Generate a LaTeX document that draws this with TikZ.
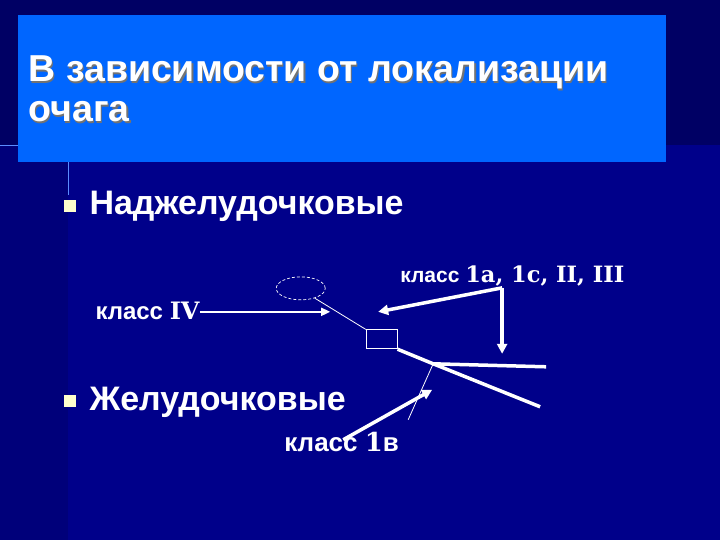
\documentclass[tikz,border=0pt]{standalone}
\usepackage{fontspec}
\setmainfont{Liberation Sans}
\newfontfamily\latfont{DejaVu Serif}
\usetikzlibrary{positioning,arrows.meta,shapes.geometric}
\begin{document}
\begin{tikzpicture}[x=1pt,y=-1pt]

  \definecolor{topcol}{RGB}{0,0,100}
  \definecolor{bgcol}{RGB}{0,0,138}
  \definecolor{stripcol}{RGB}{0,0,122}
  \definecolor{titcol}{RGB}{0,102,255}
  \definecolor{bulcol}{RGB}{255,255,204}
  \definecolor{linecol}{RGB}{90,140,255}

 \tikzset{
      txtstl/.style={text=white,inner sep=0pt,anchor=base west},
      titstl/.style={txtstl,font=\fontsize{37.5}{40}\selectfont\bfseries},
      itmstl/.style={txtstl,font=\fontsize{34}{38}\selectfont\bfseries},
      thkstl/.style={white,line width=3.5pt},
      arrstl/.style={white,line width=3.5pt,-{Triangle[length=10pt,width=10pt]}},
      thnstl/.style={white,line width=0.8pt},
      bulstl/.style={fill=bulcol,inner sep=0pt,minimum size=12pt},
    }

 % background
 \fill[bgcol] (0,0) rectangle (720,540);
 \fill[stripcol] (0,145) rectangle (68,540);
 \fill[topcol] (0,0) rectangle (720,145);
 \draw[linecol,line width=0.8pt] (0,145) -- (18,145);
 \draw[linecol,line width=0.8pt] (68,162) -- (68,195);
 \fill[titcol] (18,15) rectangle (666,162);

 % title (with its shadow)
 \node[titstl,text=black!55] at (29.2,83.2) {В зависимости от локализации};
 \node[titstl,text=black!55] at (29.2,123.2) {очага};
 \node[titstl] (tit1) at (28,82) {В зависимости от локализации};
 \node[titstl] (tit2) at (28,122) {очага};

 % bullets
 \node[bulstl] (b1) at (69.5,206.5) {};
 \node[bulstl] (b2) at (69.5,401.5) {};
 \node[itmstl] (nadj) at (89,215) {Наджелудочковые};
 \node[itmstl] (zhel) at (89,411) {Желудочковые};

 % class labels
 \node[txtstl,font=\fontsize{21}{24}\selectfont\bfseries] (kI) at (400,283)
   {класс {\latfont\fontsize{22.5}{24}\selectfont 1a, 1c, II, III}};
 \node[txtstl,font=\fontsize{24}{28}\selectfont\bfseries] (kIV) at (95,320)
   {класс {\latfont IV}};
 \node[txtstl,font=\fontsize{26}{30}\selectfont\bfseries] (kIb) at (284,452)
   {класс {\latfont 1}в};

 % heart scheme
 \node[draw=white,densely dashed,line width=0.7pt,ellipse,minimum width=49pt,
   minimum height=23pt,inner sep=0pt] (sin) at (300.5,288.5) {};
 \node[draw=white,line width=0.8pt,minimum width=31pt,minimum height=19pt,
   inner sep=0pt] (av) at (381.5,339.5) {};

 \coordinate (jn) at (433,364);
 \coordinate (rbr) at (540,407);
 \coordinate (lbl) at (546,367);
 \coordinate (fib) at (408,420);
 \coordinate (src) at (502,288);
 \coordinate (ivend) at (330,312);

 \draw[thnstl] (sin.-35) -- (av.north west);
 \draw[thkstl] (av.south east) -- (jn) -- (rbr);
 \draw[thkstl] (jn) -- (lbl);
 \draw[thnstl] (jn) -- (fib);

 % drug arrows
 \draw[white,line width=1.8pt,-{Triangle[length=9pt,width=8pt]}] (kIV.east |- ivend) -- (ivend);
 \draw[arrstl] (src) -- (378,312);
 \draw[arrstl] (src) -- (502,354);
 \draw[arrstl] (343,440) -- (432,390);
\end{tikzpicture}
\end{document}
